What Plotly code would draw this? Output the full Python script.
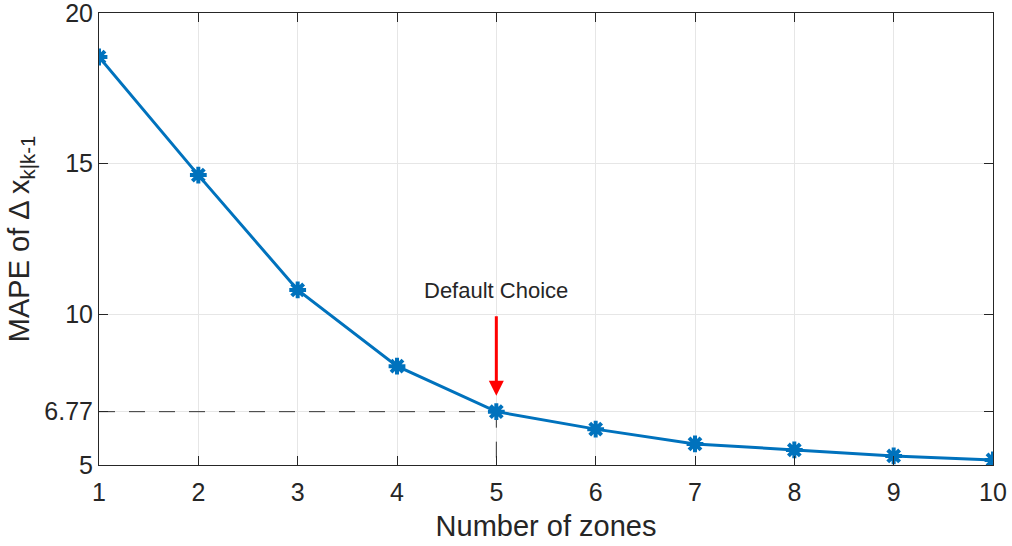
import plotly.graph_objects as go

zones = [1, 2, 3, 4, 5, 6, 7, 8, 9, 10]
mape = [18.54, 14.62, 10.81, 8.28, 6.77, 6.19, 5.70, 5.50, 5.30, 5.17]
default_zone = 5
default_value = 6.77
y_ticks = [5, 6.77, 10, 15, 20]
y_tick_labels = ["5", "6.77", "10", "15", "20"]
x_ticks = zones

blue = "#0072BD"
font_family = "Liberation Sans, Arial, Helvetica"
fig = go.Figure()

# dashed reference lines
fig.add_trace(go.Scatter(x=[zones[0], default_zone], y=[default_value, default_value],
                         mode="lines", line=dict(color="#333", width=1, dash="16px,14px"),
                         hoverinfo="skip", showlegend=False))
fig.add_trace(go.Scatter(x=[default_zone, default_zone], y=[default_value, 5],
                         mode="lines", line=dict(color="#333", width=1, dash="16px,14px"),
                         hoverinfo="skip", showlegend=False))

fig.add_trace(go.Scatter(x=zones, y=mape, mode="lines+markers",
                         line=dict(color=blue, width=3),
                         marker=dict(symbol="asterisk-open", size=14,
                                     line=dict(color=blue, width=4)),
                         showlegend=False))

# labelled arrow
fig.add_annotation(x=default_zone, y=7.3, ax=default_zone, ay=10.8,
                   xref="x", yref="y", axref="x", ayref="y",
                   text="Default Choice", showarrow=True, arrowhead=2, arrowsize=1,
                   arrowwidth=3, arrowcolor="#FF0000", startstandoff=12,
                   font=dict(family=font_family, size=22, color="#262626"))

axis_common = dict(showline=True, linecolor="#262626", linewidth=1, mirror="ticks",
                   ticks="inside", ticklen=9, tickcolor="#262626",
                   showgrid=True, gridcolor="#E6E6E6", gridwidth=1, zeroline=False,
                   automargin=False, ticklabeloverflow="allow",
                   tickfont=dict(family=font_family, size=25, color="#262626"))

fig.update_layout(
    width=1012, height=546,
    margin=dict(l=99, r=19, t=13, b=81),
    plot_bgcolor="white", paper_bgcolor="white",
    xaxis=dict(range=[1, 10], tickvals=x_ticks, ticklabelstandoff=5,
               title=dict(text="Number of zones", standoff=10,
                          font=dict(family=font_family, size=29, color="#262626")),
               **axis_common),
    yaxis=dict(range=[5, 20], tickvals=y_ticks, ticktext=y_tick_labels,
               title=dict(text="MAPE of Δ x<sub>k|k-1</sub>", standoff=6,
                          font=dict(family=font_family, size=29, color="#262626")),
               **axis_common),
)

fig.write_html("out.html")
